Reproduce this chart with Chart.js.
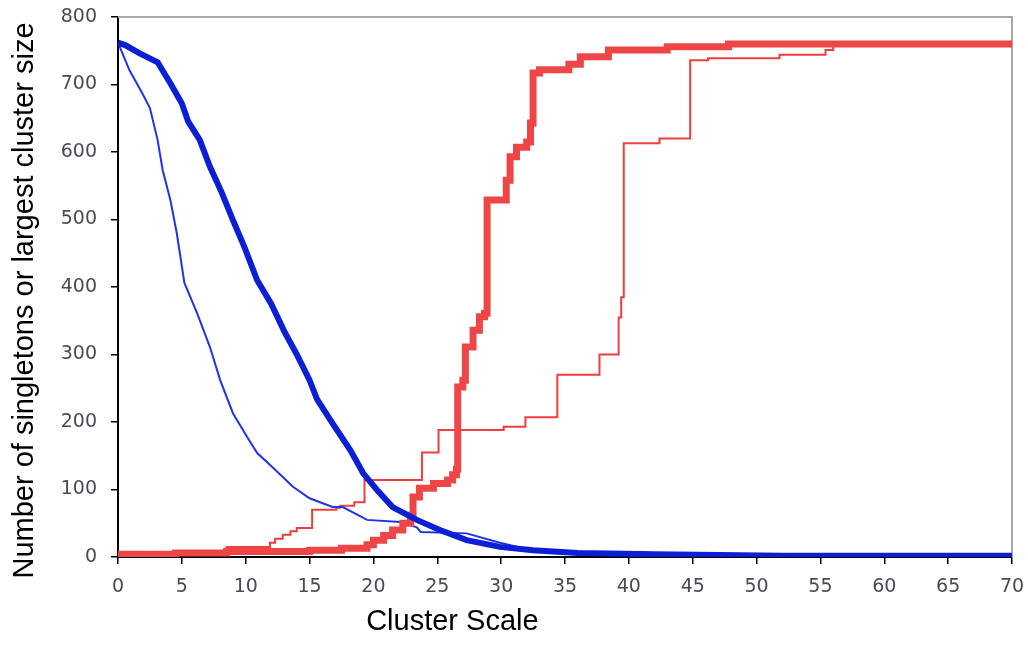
<!DOCTYPE html>
<html>
<head>
<meta charset="utf-8">
<title>Cluster Scale</title>
<script src="https://cdn.jsdelivr.net/npm/chart.js@4/dist/chart.umd.min.js"></script>
<style>
  html, body { margin: 0; padding: 0; background: #fff; }
  #wrap { width: 1028px; height: 659px; }
</style>
</head>
<body>
<div id="wrap"><canvas id="clusterChart" width="1028" height="659"></canvas></div>
<script>
// ---- data ----
const xTicks = [0, 5, 10, 15, 20, 25, 30, 35, 40, 45, 50, 55, 60, 65, 70];
const yTicks = [0, 100, 200, 300, 400, 500, 600, 700, 800];

// singletons, run A (thick blue)
const singletonsAX = [0, 0.6, 1.7, 3.1, 4.1, 5.0, 5.5, 6.4, 7.2, 8.1, 9.0, 9.9, 10.9, 12.0, 13.0, 14.0, 15.0, 15.6, 16.8, 18.2, 19.2, 20.3, 21.5, 23.4, 25.2, 27.3, 29.9, 32.5, 36.0, 42.0, 52.0, 70];
const singletonsAY = [762, 758, 746, 733, 702, 672, 645, 618, 578, 541, 499, 459, 410, 375, 335, 300, 262, 233, 198, 158, 124, 99, 74, 55, 40, 25, 15, 10, 6, 4, 2, 2];

// singletons, run B (thin blue)
const singletonsBX = [0, 0.9, 1.9, 2.5, 3.1, 3.5, 4.1, 4.6, 5.2, 6.2, 7.2, 8.0, 9.0, 10.1, 10.9, 12.1, 13.7, 15.0, 16.8, 17.6, 19.5, 22.1, 23.4, 23.7, 27.3, 29.9, 32.4, 40, 70];
const singletonsBY = [762, 721, 687, 665, 618, 573, 529, 480, 406, 361, 311, 262, 213, 178, 154, 133, 104, 87, 74, 74, 55, 52, 44, 37, 35, 21, 10, 3, 2];

// largest cluster, run A (thick red) - each level holds from the previous x up to its own x
const largestAX = [0, 4.5, 8.5, 15, 17.5, 19.5, 20, 20.8, 21.5, 22.3, 22.9, 23.1, 23.6, 24.7, 25.8, 26.2, 26.5, 26.6, 27.0, 27.2, 27.8, 28.3, 28.7, 28.9, 30.4, 30.7, 31.2, 32.0, 32.3, 32.5, 33.0, 35.3, 36.2, 38.4, 43.0, 47.8, 70];
const largestAY = [4, 6, 8, 10, 13, 18, 25, 32, 40, 50, 62, 89, 102, 109, 114, 122, 130, 252, 262, 311, 336, 356, 361, 529, 558, 593, 607, 615, 643, 717, 722, 730, 741, 751, 756, 760, 760];

// largest cluster, run B (thin red)
const largestBX = [0, 4.6, 8.5, 11.9, 12.3, 12.9, 13.5, 14.0, 15.2, 17.1, 17.4, 18.5, 19.3, 23.8, 25.1, 30.2, 31.9, 34.4, 37.7, 39.2, 39.4, 39.6, 42.4, 44.8, 46.2, 51.8, 55.4, 56.0, 70];
const largestBY = [3, 9, 15, 21, 27, 33, 38, 43, 70, 73, 76, 81, 114, 155, 188, 193, 207, 270, 300, 355, 385, 613, 620, 736, 739, 744, 751, 758, 760];

const xTitle = 'Cluster Scale';
const yTitle = 'Number of singletons or largest cluster size';

const zipXY = (xs, ys) => xs.map((x, i) => ({ x: x, y: ys[i] }));

const TICK_FONT = { family: '"DejaVu Sans", Verdana, sans-serif', size: 19 };
const TICK_COLOR = '#4a4a56';
const TITLE_FONT = '29px "Liberation Sans", Arial, Helvetica, sans-serif';

// grey frame on top/right and the two axis titles
const frameAndTitles = {
    id: 'frameAndTitles',
    beforeDatasetsDraw(chart) {
        const { ctx, chartArea: a } = chart;
        ctx.save();
        ctx.strokeStyle = '#a8a8a8';
        ctx.lineWidth = 2;
        ctx.beginPath();
        ctx.moveTo(a.left, a.top);
        ctx.lineTo(a.right, a.top);
        ctx.lineTo(a.right, a.bottom);
        ctx.stroke();
        ctx.restore();
    },
    afterDraw(chart) {
        const { ctx, chartArea: a } = chart;
        ctx.save();
        ctx.fillStyle = '#000';
        ctx.font = TITLE_FONT;
        ctx.textAlign = 'center';
        ctx.textBaseline = 'alphabetic';
        ctx.fillText(xTitle, a.left + a.width * 0.374, chart.height - 29);
        ctx.translate(33, a.top + a.height * 0.525);
        ctx.rotate(-Math.PI / 2);
        ctx.fillText(yTitle, 0, 0);
        ctx.restore();
    }
};

const ctx = document.getElementById('clusterChart').getContext('2d');
new Chart(ctx, {
    type: 'line',
    data: {
        datasets: [
            {
                label: 'Singletons A',
                data: zipXY(singletonsAX, singletonsAY),
                borderColor: '#0b1fd4',
                borderWidth: 6,
                pointRadius: 0,
                tension: 0
            },
            {
                label: 'Largest cluster A',
                data: zipXY(largestAX, largestAY),
                borderColor: '#ee4646',
                borderWidth: 7,
                pointRadius: 0,
                stepped: 'before'
            },
            {
                label: 'Singletons B',
                data: zipXY(singletonsBX, singletonsBY),
                borderColor: '#1f34e6',
                borderWidth: 2,
                pointRadius: 0,
                tension: 0
            },
            {
                label: 'Largest cluster B',
                data: zipXY(largestBX, largestBY),
                borderColor: '#f03e3e',
                borderWidth: 2,
                pointRadius: 0,
                stepped: 'before'
            }
        ]
    },
    options: {
        responsive: false,
        animation: false,
        layout: { padding: { left: 0, top: 17, right: 16, bottom: 0 } },
        plugins: {
            legend: { display: false },
            tooltip: { enabled: false }
        },
        scales: {
            x: {
                type: 'linear',
                min: 0,
                max: 70,
                afterBuildTicks: s => { s.ticks = xTicks.map(v => ({ value: v })); },
                afterFit: s => {
                    s.height = 102;
                    s.paddingLeft = 0;
                    s.paddingRight = 0;
                },
                border: { color: '#000', width: 2 },
                grid: { drawOnChartArea: false, drawTicks: true, tickLength: 7, color: '#000', lineWidth: 1.5 },
                ticks: { font: TICK_FONT, color: TICK_COLOR, padding: 12, maxRotation: 0 }
            },
            y: {
                type: 'linear',
                min: 0,
                max: 800,
                afterBuildTicks: s => { s.ticks = yTicks.map(v => ({ value: v })); },
                afterFit: s => {
                    s.width = 118;
                    s.paddingTop = 0;
                    s.paddingBottom = 0;
                },
                border: { color: '#000', width: 2 },
                grid: { drawOnChartArea: false, drawTicks: true, tickLength: 7, color: '#000', lineWidth: 1.5 },
                ticks: { font: TICK_FONT, color: TICK_COLOR, padding: 14 }
            }
        }
    },
    plugins: [frameAndTitles]
});
</script>
</body>
</html>
